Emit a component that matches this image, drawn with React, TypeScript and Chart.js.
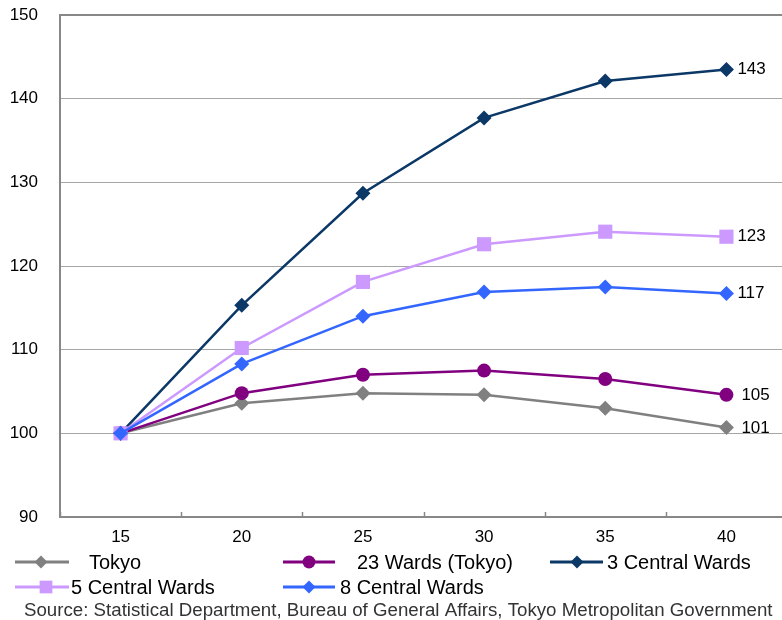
import React, { useEffect, useRef } from "react";
import { Chart, registerables } from "chart.js";

Chart.register(...registerables);

const categories = ["15", "20", "25", "30", "35", "40"];
const tokyo = [100, 103.6, 104.8, 104.6, 103.0, 100.7];
const wards23 = [100, 104.8, 107.0, 107.5, 106.5, 104.6];
const central3 = [100, 115.3, 128.7, 137.7, 142.1, 143.5];
const central5 = [100, 110.2, 118.1, 122.6, 124.1, 123.5];
const central8 = [100, 108.3, 114.0, 116.9, 117.5, 116.7];
const endLabels = ["101", "105", "143", "123", "117"];
const seriesNames = ["Tokyo", "23 Wards (Tokyo)", "3 Central Wards", "5 Central Wards", "8 Central Wards"];
const yTicks = [90, 100, 110, 120, 130, 140, 150];
const sourceText = "Source: Statistical Department, Bureau of General Affairs, Tokyo Metropolitan Government";

const FONT = "'Liberation Sans', Arial, sans-serif";

export default function App() {
  const ref = useRef<HTMLCanvasElement | null>(null);
  useEffect(() => {
    if (!ref.current) return;
    const styles = [
      { color: "#808080", style: "rectRot", radius: 7.5 },
      { color: "#800080", style: "circle", radius: 7 },
      { color: "#0b3866", style: "rectRot", radius: 7.5 },
      { color: "#cc99ff", style: "rect", radius: 10 },
      { color: "#3366ff", style: "rectRot", radius: 7.5 },
    ];
    const values = [tokyo, wards23, central3, central5, central8];
    const orders = [5, 4, 3, 2, 1];
    const datasets = values.map((v, i) => ({
      label: seriesNames[i],
      data: v,
      borderColor: styles[i].color,
      backgroundColor: styles[i].color,
      pointBackgroundColor: styles[i].color,
      pointBorderColor: styles[i].color,
      pointBorderWidth: 0,
      pointStyle: styles[i].style,
      pointRadius: styles[i].radius,
      borderWidth: 2.5,
      tension: 0,
      order: orders[i],
    }));

    const legendItems = [
      { i: 0, x0: 15, x1: 69, mx: 41, tx: 89, y: 562 },
      { i: 1, x0: 283, x1: 335, mx: 309, tx: 357, y: 562 },
      { i: 2, x0: 550, x1: 603, mx: 577, tx: 607, y: 562 },
      { i: 3, x0: 15, x1: 69, mx: 46, tx: 71, y: 587 },
      { i: 4, x0: 283, x1: 335, mx: 309, tx: 340, y: 587 },
    ];

    const overlay = {
      id: "overlay",
      afterDatasetsDraw(chart: any) {
        const ctx = chart.ctx;
        const xs = chart.scales.x;
        const area = chart.chartArea;
        ctx.save();
        ctx.strokeStyle = "#888888";
        ctx.lineWidth = 1.5;
        const half = (xs.getPixelForValue(1) - xs.getPixelForValue(0)) / 2;
        for (let i = 0; i <= categories.length; i++) {
          const x = Math.round(xs.getPixelForValue(i) - half) + 0.5;
          ctx.beginPath();
          ctx.moveTo(x, area.bottom);
          ctx.lineTo(x, area.bottom - 5);
          ctx.stroke();
        }
        ctx.fillStyle = "#000";
        ctx.font = `17px ${FONT}`;
        ctx.textBaseline = "middle";
        ctx.textAlign = "left";
        chart.data.datasets.forEach((ds: any, di: number) => {
          const meta = chart.getDatasetMeta(di);
          const pt = meta.data[meta.data.length - 1];
          const off = styles[di].style === "circle" || di === 0 ? 15 : 11;
          ctx.fillText(endLabels[di], pt.x + off, pt.y + (di === 0 ? 1 : 0));
        });
        ctx.restore();
      },
      afterDraw(chart: any) {
        const ctx = chart.ctx;
        ctx.save();
        legendItems.forEach((it) => {
          const s = styles[it.i];
          ctx.strokeStyle = s.color;
          ctx.fillStyle = s.color;
          ctx.lineWidth = 3;
          ctx.beginPath();
          ctx.moveTo(it.x0, it.y);
          ctx.lineTo(it.x1, it.y);
          ctx.stroke();
          ctx.beginPath();
          const r = s.style === "circle" ? 6.5 : s.style === "rect" ? 9 : 6.5;
          if (s.style === "circle") {
            ctx.arc(it.mx, it.y, r, 0, Math.PI * 2);
          } else if (s.style === "rect") {
            const h = r * Math.SQRT1_2;
            ctx.rect(it.mx - h, it.y - h, 2 * h, 2 * h);
          } else {
            ctx.moveTo(it.mx - r, it.y);
            ctx.lineTo(it.mx, it.y - r);
            ctx.lineTo(it.mx + r, it.y);
            ctx.lineTo(it.mx, it.y + r);
            ctx.closePath();
          }
          ctx.fill();
          ctx.fillStyle = "#000";
          ctx.font = `20px ${FONT}`;
          ctx.textBaseline = "middle";
          ctx.textAlign = "left";
          ctx.fillText(seriesNames[it.i], it.tx, it.y + 1);
        });
        ctx.fillStyle = "#333";
        ctx.font = `18.7px ${FONT}`;
        ctx.textBaseline = "middle";
        ctx.fillText(sourceText, 24, 611);
        ctx.restore();
      },
    };

    const chart = new Chart(ref.current, {
      type: "line",
      data: { labels: categories, datasets: datasets as any },
      options: {
        animation: false,
        responsive: false,
        layout: { autoPadding: false, padding: { left: 0, top: 15, right: 3, bottom: 0 } },
        plugins: { legend: { display: false }, tooltip: { enabled: false } },
        scales: {
          x: {
            type: "category",
            offset: true,
            grid: { display: false, drawTicks: false },
            border: { display: true, color: "#888888", width: 2 },
            ticks: { color: "#000", font: { family: FONT, size: 17 }, padding: 10, maxRotation: 0 },
            afterFit: (s: any) => {
              s.height = 103;
              s.paddingLeft = 0;
              s.paddingRight = 0;
            },
          },
          y: {
            min: 90,
            max: 150,
            afterBuildTicks: (s: any) => {
              s.ticks = yTicks.map((v) => ({ value: v }));
            },
            grid: {
              drawTicks: false,
              color: (c: any) => (c.tick && c.tick.value === 150 ? "#888888" : "#a6a6a6"),
              lineWidth: (c: any) => (c.tick && c.tick.value === 150 ? 2 : 1),
            },
            border: { display: true, color: "#888888", width: 2 },
            ticks: { color: "#000", font: { family: FONT, size: 17 }, padding: 22 },
            afterFit: (s: any) => {
              s.width = 60;
              s.paddingTop = 0;
              s.paddingBottom = 0;
            },
          },
        },
      },
      plugins: [overlay],
    });
    return () => chart.destroy();
  }, []);

  return (
    <div style={{ position: "fixed", left: 0, top: 0, width: 790, height: 620, background: "#fff" }}>
      <canvas ref={ref} width={790} height={620} style={{ width: 790, height: 620 }} />
    </div>
  );
}
